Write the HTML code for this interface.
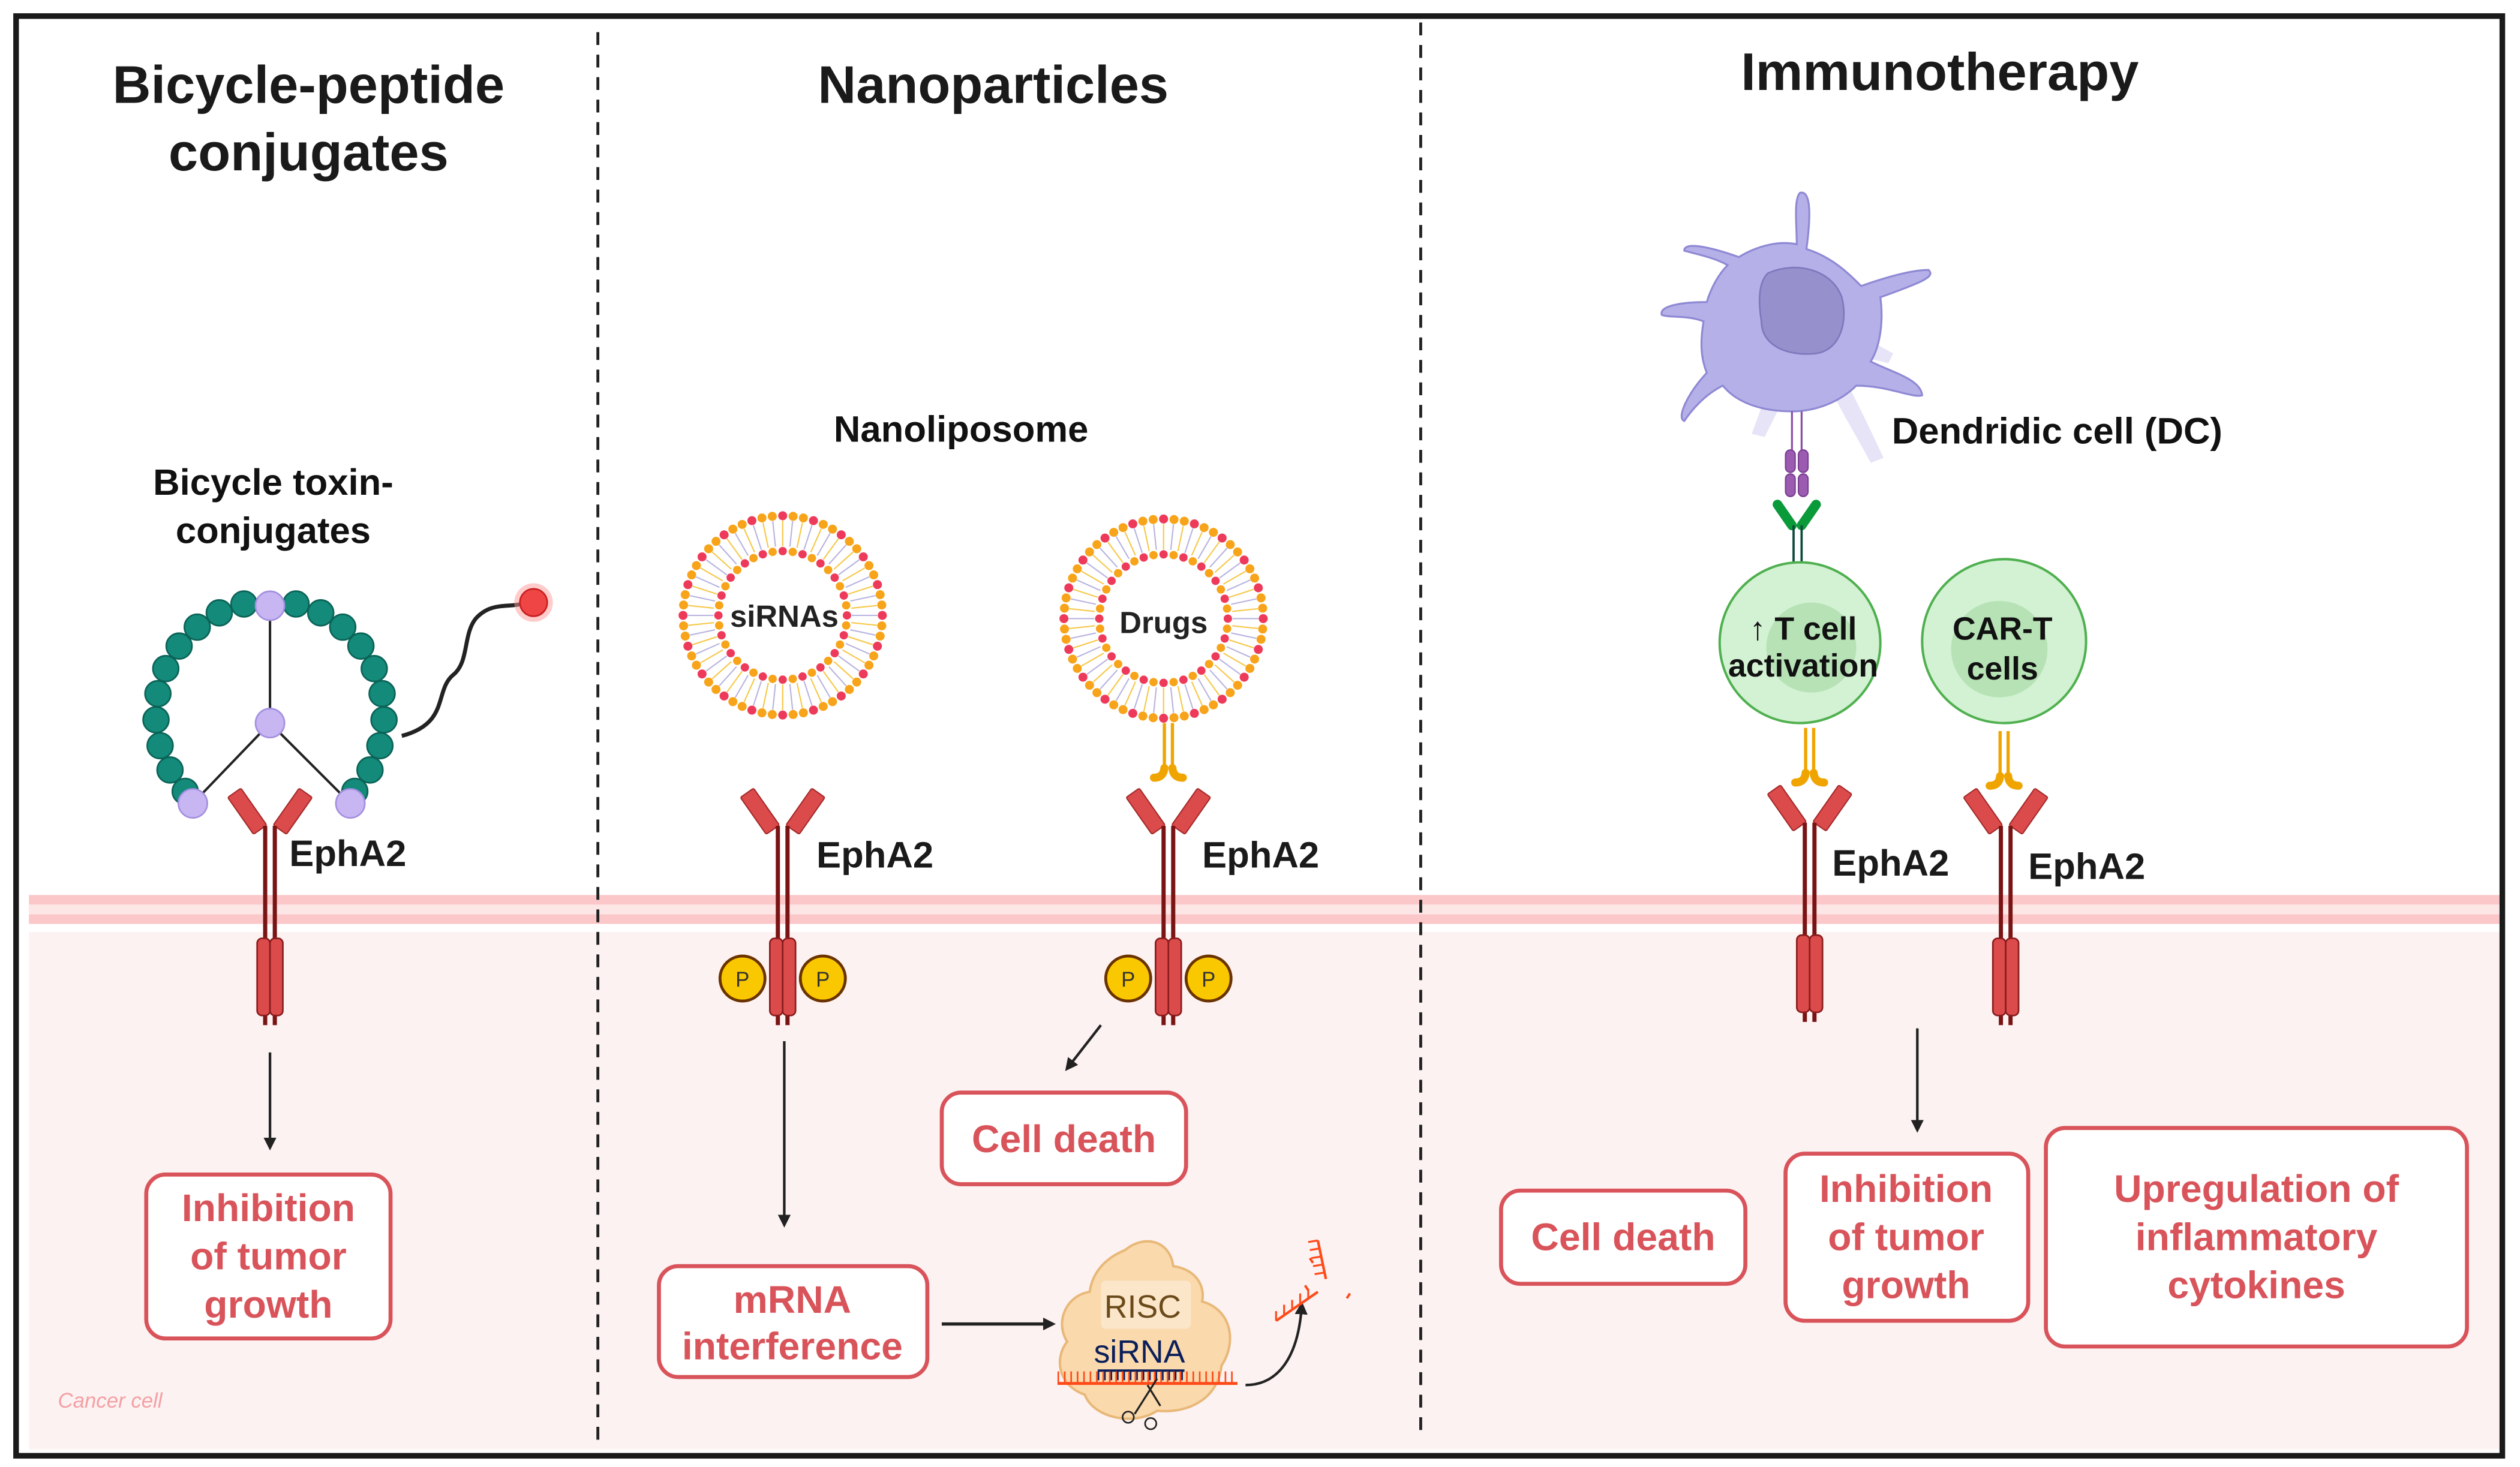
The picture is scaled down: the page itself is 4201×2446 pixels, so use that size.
<!DOCTYPE html>
<html><head><meta charset="utf-8">
<style>
html,body{margin:0;padding:0;background:#fff}
svg{display:block}
text{font-family:"Liberation Sans",sans-serif;font-weight:bold}
</style></head>
<body>
<svg id="s" width="4201" height="2446" viewBox="0 0 1568 913" preserveAspectRatio="none" xmlns="http://www.w3.org/2000/svg">
<defs>
<g id="rec">
 <rect x="-5" y="-30" width="10" height="28" rx="1" fill="#dc4b4b" stroke="#a52a2a" stroke-width="0.8" transform="translate(-5,0) rotate(-35)"/>
 <rect x="-5" y="-30" width="10" height="28" rx="1" fill="#dc4b4b" stroke="#a52a2a" stroke-width="0.8" transform="translate(5,0) rotate(35)"/>
 <line x1="-3" y1="-4" x2="-3" y2="120" stroke="#7a1414" stroke-width="2.6"/>
 <line x1="3" y1="-4" x2="3" y2="120" stroke="#7a1414" stroke-width="2.6"/>
 <rect x="-8" y="66" width="8" height="48" rx="3" fill="#dc4b4b" stroke="#8a1c1c" stroke-width="1"/>
 <rect x="0" y="66" width="8" height="48" rx="3" fill="#dc4b4b" stroke="#8a1c1c" stroke-width="1"/>
</g>
<g id="ab">
 <line x1="-2.5" y1="0" x2="-2.5" y2="28" stroke="#f0a400" stroke-width="2"/>
 <line x1="2.5" y1="0" x2="2.5" y2="28" stroke="#f0a400" stroke-width="2"/>
 <path d="M-2.5 28 Q-3 34 -9 34" stroke="#f0a400" stroke-width="5" fill="none" stroke-linecap="round"/>
 <path d="M2.5 28 Q3 34 9 34" stroke="#f0a400" stroke-width="5" fill="none" stroke-linecap="round"/>
</g>
<marker id="ah" markerWidth="8" markerHeight="8" refX="6" refY="4" orient="auto" markerUnits="userSpaceOnUse" viewBox="0 0 8 8"><path d="M0 0 L8 4 L0 8 Z" fill="#222"/></marker>
</defs>

<rect x="18" y="580" width="1540" height="322" fill="#fdf2f2"/>
<rect x="18" y="557" width="1540" height="6" fill="#fbc7c9"/>
<rect x="18" y="569" width="1540" height="6" fill="#fbc7c9"/>
<rect x="18" y="563" width="1540" height="6" fill="#fde6e6"/>

<rect x="10" y="10" width="1547" height="896" fill="none" stroke="#1a1a1a" stroke-width="3.5"/>
<line x1="372" y1="20" x2="372" y2="900" stroke="#222" stroke-width="1.8" stroke-dasharray="8 6"/>
<line x1="884" y1="14" x2="884" y2="890" stroke="#222" stroke-width="1.8" stroke-dasharray="8 6"/>

<text x="192" y="64" font-size="33" text-anchor="middle" fill="#1a1a1a">Bicycle-peptide</text>
<text x="192" y="106" font-size="33" text-anchor="middle" fill="#1a1a1a">conjugates</text>
<text x="618" y="64" font-size="33" text-anchor="middle" fill="#1a1a1a">Nanoparticles</text>
<text x="1207" y="56" font-size="33" text-anchor="middle" fill="#1a1a1a">Immunotherapy</text>

<text x="170" y="308" font-size="23" text-anchor="middle" fill="#111">Bicycle toxin-</text>
<text x="170" y="338" font-size="23" text-anchor="middle" fill="#111">conjugates</text>
<line x1="168" y1="377" x2="168" y2="450" stroke="#222" stroke-width="1.5"/>
<line x1="168" y1="450" x2="120" y2="500" stroke="#222" stroke-width="1.5"/>
<line x1="168" y1="450" x2="218" y2="500" stroke="#222" stroke-width="1.5"/>
<g id="beads"></g>
<circle cx="168" cy="377" r="9" fill="#c7b6f2" stroke="#a48fe0"/>
<circle cx="168" cy="450" r="9" fill="#c7b6f2" stroke="#a48fe0"/>
<circle cx="120" cy="500" r="9" fill="#c7b6f2" stroke="#a48fe0"/>
<circle cx="218" cy="500" r="9" fill="#c7b6f2" stroke="#a48fe0"/>
<path d="M250 458 C280 450 270 430 282 420 C292 412 288 395 296 385 C305 375 315 378 324 376" stroke="#222" stroke-width="2.5" fill="none"/>
<circle cx="332" cy="375" r="12" fill="#ff9a9a" opacity="0.5"/>
<circle cx="332" cy="375" r="8.5" fill="#f04545" stroke="#c82020"/>
<use href="#rec" x="168" y="518"/>
<text x="180" y="539" font-size="23" fill="#1a1a1a">EphA2</text>
<line x1="168" y1="655" x2="168" y2="714" stroke="#222" stroke-width="1.6" marker-end="url(#ah)"/>
<rect x="91" y="731" width="152" height="102" rx="12" fill="#fff" stroke="#d9535a" stroke-width="2.5"/>
<text x="167" y="760" font-size="24" text-anchor="middle" fill="#d9535a">Inhibition</text>
<text x="167" y="790" font-size="24" text-anchor="middle" fill="#d9535a">of tumor</text>
<text x="167" y="820" font-size="24" text-anchor="middle" fill="#d9535a">growth</text>
<text x="36" y="876" font-size="13" font-style="italic" fill="#f4a0a4" style="font-weight:normal">Cancer cell</text>

<text x="598" y="275" font-size="23" text-anchor="middle" fill="#111">Nanoliposome</text>
<g id="lipo1"></g>
<g id="lipo2"></g>
<text x="488" y="390" font-size="19" text-anchor="middle" fill="#222">siRNAs</text>
<text x="724" y="394" font-size="19" text-anchor="middle" fill="#222">Drugs</text>
<use href="#ab" x="727" y="450"/>
<use href="#rec" x="487" y="518"/>
<use href="#rec" x="727" y="518"/>
<text x="508" y="540" font-size="23" fill="#1a1a1a">EphA2</text>
<text x="748" y="540" font-size="23" fill="#1a1a1a">EphA2</text>
<g font-size="13" text-anchor="middle">
<circle cx="462" cy="609" r="14" fill="#f9c800" stroke="#6b3300" stroke-width="1.8"/><text x="462" y="614" fill="#333" style="font-weight:normal">P</text>
<circle cx="512" cy="609" r="14" fill="#f9c800" stroke="#6b3300" stroke-width="1.8"/><text x="512" y="614" fill="#333" style="font-weight:normal">P</text>
<circle cx="702" cy="609" r="14" fill="#f9c800" stroke="#6b3300" stroke-width="1.8"/><text x="702" y="614" fill="#333" style="font-weight:normal">P</text>
<circle cx="752" cy="609" r="14" fill="#f9c800" stroke="#6b3300" stroke-width="1.8"/><text x="752" y="614" fill="#333" style="font-weight:normal">P</text>
</g>
<line x1="488" y1="648" x2="488" y2="762" stroke="#222" stroke-width="1.6" marker-end="url(#ah)"/>
<line x1="685" y1="638" x2="664" y2="665" stroke="#222" stroke-width="1.6" marker-end="url(#ah)"/>
<rect x="586" y="680" width="152" height="57" rx="12" fill="#fff" stroke="#d9535a" stroke-width="2.5"/>
<text x="662" y="717" font-size="24" text-anchor="middle" fill="#d9535a">Cell death</text>
<rect x="410" y="788" width="167" height="69" rx="12" fill="#fff" stroke="#d9535a" stroke-width="2.5"/>
<text x="493" y="817" font-size="24" text-anchor="middle" fill="#d9535a">mRNA</text>
<text x="493" y="846" font-size="24" text-anchor="middle" fill="#d9535a">interference</text>
<line x1="586" y1="824" x2="655" y2="824" stroke="#222" stroke-width="2" marker-end="url(#ah)"/>
<path d="M700 778 C712 768 728 772 730 788 C744 790 750 800 748 810 C766 815 770 835 760 850 C758 870 740 880 720 878 C705 888 680 882 675 868 C658 862 656 845 664 835 C656 822 664 806 678 804 C680 790 690 782 700 778Z" fill="#fad9ac" stroke="#e8b878" stroke-width="1.5"/>
<rect x="685" y="797" width="56" height="30" rx="3" fill="#fbe9d2" opacity="0.8"/>
<text x="711" y="820" font-size="20" text-anchor="middle" fill="#6b4a1a" style="font-weight:normal">RISC</text>
<text x="709" y="848" font-size="20" text-anchor="middle" fill="#0a1f5a" style="font-weight:normal">siRNA</text>
<line x1="683" y1="853" x2="737" y2="853" stroke="#0a1f5a" stroke-width="1.5"/>
<line x1="658" y1="861" x2="770" y2="861" stroke="#ff4a1a" stroke-width="1.8"/>
<line x1="683" y1="853" x2="737" y2="853" stroke="#0a1f5a" stroke-width="6" stroke-dasharray="1 3" transform="translate(0,3)"/>
<line x1="658" y1="861" x2="770" y2="861" stroke="#ff4a1a" stroke-width="7" stroke-dasharray="1 3" transform="translate(0,-4)"/>
<path d="M720 858 L706 880 M714 862 L722 875" stroke="#222" stroke-width="1.2"/>
<circle cx="702" cy="882" r="3.5" fill="none" stroke="#222"/><circle cx="716" cy="886" r="3.5" fill="none" stroke="#222"/>
<path d="M775 862 C795 862 808 845 810 812" stroke="#222" stroke-width="1.6" fill="none" marker-end="url(#ah)"/>
<path d="M794 822 L820 804 M820 772 L825 796" stroke="#ff4a1a" stroke-width="1.6"/>
<path d="M794 822 l0 -6 M799 818 l0 -6 M804 815 l0 -6 M809 811 l0 -6 M814 808 l0 -6 M820 772 l-6 1 M821 777 l-6 1 M822 782 l-6 1 M823 787 l-6 1 M824 792 l-6 1" stroke="#ff4a1a" stroke-width="1.2"/>
<path d="M815 783 l2 3 M838 808 l2 -3 M812 800 l2 3" stroke="#ff4a1a" stroke-width="1.5"/>

<g fill="#c9c4ef" opacity="0.45">
<path d="M1150 240 C1158 255 1165 270 1172 285 L1164 288 C1156 273 1148 260 1142 248Z"/>
<path d="M1098 248 L1090 270 L1098 272 L1108 252Z"/>
<path d="M1160 210 L1178 220 L1175 226 L1158 222Z"/>
</g>
<g fill="#b5b1e8" stroke="#8f89d4" stroke-width="1.2">
<path d="M1120 120 C1128 118 1126 140 1124 155 C1140 160 1150 170 1158 178 C1175 172 1190 168 1200 168 C1204 172 1198 175 1170 185 C1172 200 1170 215 1164 225 C1178 232 1195 236 1196 246 C1190 248 1175 240 1155 240 C1145 250 1130 256 1115 256 C1095 256 1080 250 1072 240 C1060 246 1052 256 1048 262 C1043 260 1050 245 1062 232 C1058 222 1058 212 1060 200 C1050 196 1040 198 1034 196 C1032 190 1048 188 1062 188 C1065 178 1070 170 1075 165 C1066 160 1055 158 1048 156 C1048 150 1065 154 1082 160 C1095 152 1108 150 1118 152 C1118 140 1116 124 1120 120Z"/>
</g>
<path d="M1100 170 C1118 162 1140 168 1146 185 C1150 200 1145 218 1130 220 C1112 222 1096 215 1096 200 C1094 188 1094 176 1100 170Z" fill="#9690cd" stroke="#7e78bd" stroke-width="1"/>
<line x1="1115" y1="256" x2="1115" y2="280" stroke="#8a4fa8" stroke-width="1.2"/>
<line x1="1121" y1="256" x2="1121" y2="280" stroke="#8a4fa8" stroke-width="1.2"/>
<g fill="#9a5bb0" stroke="#7a3d90" stroke-width="0.8">
<rect x="1111" y="280" width="6" height="14" rx="3"/><rect x="1119" y="280" width="6" height="14" rx="3"/>
<rect x="1111" y="295" width="6" height="14" rx="3"/><rect x="1119" y="295" width="6" height="14" rx="3"/>
</g>
<path d="M1106 314 L1115 327 M1130 314 L1121 327" stroke="#0a9a3a" stroke-width="6" stroke-linecap="round"/>
<line x1="1116" y1="327" x2="1116" y2="365" stroke="#0c4a3a" stroke-width="1.4"/>
<line x1="1121" y1="327" x2="1121" y2="365" stroke="#0c4a3a" stroke-width="1.4"/>
<circle cx="1120" cy="400" r="50" fill="#d3f1d3" stroke="#4fb04f" stroke-width="1.5"/>
<circle cx="1127" cy="403" r="28" fill="#b2e0b2" opacity="0.9"/>
<circle cx="1247" cy="399" r="51" fill="#d3f1d3" stroke="#4fb04f" stroke-width="1.5"/>
<circle cx="1244" cy="404" r="30" fill="#b2e0b2" opacity="0.9"/>
<text x="1122" y="398" font-size="20" text-anchor="middle" fill="#111">↑ T cell</text>
<text x="1122" y="421" font-size="20" text-anchor="middle" fill="#111">activation</text>
<text x="1246" y="398" font-size="20" text-anchor="middle" fill="#111">CAR-T</text>
<text x="1246" y="423" font-size="20" text-anchor="middle" fill="#111">cells</text>
<text x="1280" y="276" font-size="23" text-anchor="middle" fill="#111">Dendridic cell (DC)</text>
<use href="#ab" x="1126" y="453"/>
<use href="#ab" x="1247" y="455"/>
<use href="#rec" x="1126" y="516"/>
<use href="#rec" x="1248" y="518"/>
<text x="1140" y="545" font-size="23" fill="#1a1a1a">EphA2</text>
<text x="1262" y="547" font-size="23" fill="#1a1a1a">EphA2</text>
<line x1="1193" y1="640" x2="1193" y2="703" stroke="#222" stroke-width="1.6" marker-end="url(#ah)"/>
<rect x="934" y="741" width="152" height="58" rx="12" fill="#fff" stroke="#d9535a" stroke-width="2.5"/>
<text x="1010" y="778" font-size="24" text-anchor="middle" fill="#d9535a">Cell death</text>
<rect x="1111" y="718" width="151" height="104" rx="12" fill="#fff" stroke="#d9535a" stroke-width="2.5"/>
<text x="1186" y="748" font-size="24" text-anchor="middle" fill="#d9535a">Inhibition</text>
<text x="1186" y="778" font-size="24" text-anchor="middle" fill="#d9535a">of tumor</text>
<text x="1186" y="808" font-size="24" text-anchor="middle" fill="#d9535a">growth</text>
<rect x="1273" y="702" width="262" height="136" rx="12" fill="#fff" stroke="#d9535a" stroke-width="2.5"/>
<text x="1404" y="748" font-size="24" text-anchor="middle" fill="#d9535a">Upregulation of</text>
<text x="1404" y="778" font-size="24" text-anchor="middle" fill="#d9535a">inflammatory</text>
<text x="1404" y="808" font-size="24" text-anchor="middle" fill="#d9535a">cytokines</text>
</svg>
<script>
var NS="http://www.w3.org/2000/svg";
function el(p,t,a){var e=document.createElementNS(NS,t);for(var k in a)e.setAttribute(k,a[k]);p.appendChild(e);return e;}
var b=document.getElementById("beads");
for(var i=0;i<21;i++){var a=(-132+ i*(264/20))*Math.PI/180;
 var x=168+71*Math.sin(a), y=445-71*Math.cos(a);
 if(Math.abs(a)<0.12) continue;
 el(b,"circle",{cx:x,cy:y,r:8,fill:"#138a7a",stroke:"#0b6357","stroke-width":1});}
function lipo(g,cx,cy){
 var R1=62,R2=40,n1=60,n2=40;
 for(var i=0;i<n1;i++){var a=i*2*Math.PI/n1;
  el(g,"line",{x1:cx+(R1-3)*Math.cos(a),y1:cy+(R1-3)*Math.sin(a),x2:cx+(R2+3)*Math.cos(a),y2:cy+(R2+3)*Math.sin(a),stroke:i%2?"#f6c84a":"#b9b4e0","stroke-width":0.8});}
 for(var i=0;i<n1;i++){var a=i*2*Math.PI/n1;
  el(g,"circle",{cx:cx+R1*Math.cos(a),cy:cy+R1*Math.sin(a),r:2.8,fill:(i%3==0)?"#ee3a5a":"#f7a41a"});}
 for(var i=0;i<n2;i++){var a=i*2*Math.PI/n2;
  el(g,"circle",{cx:cx+R2*Math.cos(a),cy:cy+R2*Math.sin(a),r:2.6,fill:(i%2==0)?"#ee3a5a":"#f7a41a"});}
 el(g,"circle",{cx:cx,cy:cy,r:R2-3,fill:"#fff"});
}
lipo(document.getElementById("lipo1"),487,383);
lipo(document.getElementById("lipo2"),724,385);
</script>
</body></html>
